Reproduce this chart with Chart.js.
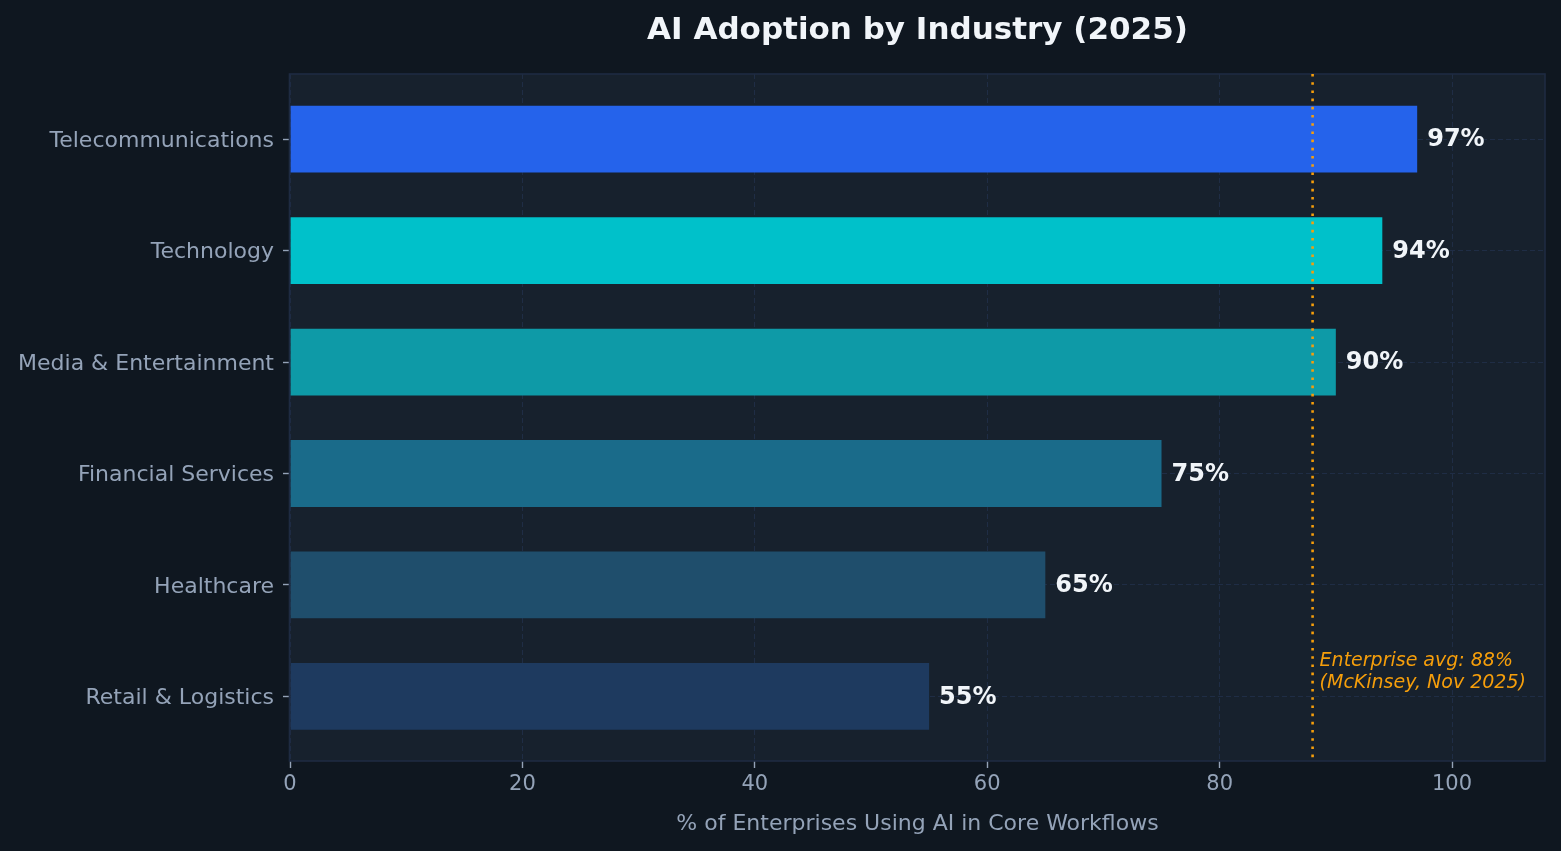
<!DOCTYPE html>
<html>
<head>
<meta charset="utf-8">
<script src="https://cdn.jsdelivr.net/npm/chart.js@4/dist/chart.umd.min.js"></script>
<style>
  html, body { margin: 0; padding: 0; background: #0f1720; }
  #wrap { width: 1561px; height: 851px; position: relative; }
</style>
</head>
<body>
<div id="wrap"><canvas id="c" width="1561" height="851"></canvas></div>
<script>
const categories = ["Telecommunications", "Technology", "Media & Entertainment", "Financial Services", "Healthcare", "Retail & Logistics"];
const adoptionPct = [97, 94, 90, 75, 65, 55];
const barColors = ["#2563eb", "#00c1ca", "#0e9aa7", "#1a6b8a", "#1f4e6c", "#1e3a5f"];
const xTicks = [0, 20, 40, 60, 80, 100];
const enterpriseAvg = 88;
const avgLabelLines = ["Enterprise avg: 88%", "(McKinsey, Nov 2025)"];
const titleText = "AI Adoption by Industry (2025)";
const xTitleText = "% of Enterprises Using AI in Core Workflows";

const BG = "#0f1720";
const PLOT_BG = "#17212d";
const FRAME = "#1e2b42";
const GRID = "#1f2d45";
const TICK_TXT = "#94a3b8";
const FONT = "'DejaVu Sans', sans-serif";

const bgPlugin = {
  id: "bgPlugin",
  beforeDraw(chart) {
    const { ctx, chartArea: a } = chart;
    ctx.save();
    ctx.fillStyle = BG;
    ctx.fillRect(0, 0, chart.width, chart.height);
    ctx.fillStyle = PLOT_BG;
    ctx.fillRect(a.left, a.top, a.right - a.left, a.bottom - a.top);
    // title centred over the plot area
    ctx.fillStyle = "#f1f5f9";
    ctx.font = "bold 31px " + FONT;
    ctx.textAlign = "center";
    ctx.textBaseline = "alphabetic";
    ctx.fillText(titleText, (a.left + a.right) / 2, 39);
    ctx.restore();
  },
  afterDatasetsDraw(chart) {
    const { ctx, chartArea: a, scales } = chart;
    const x = scales.x, y = scales.y;
    ctx.save();
    // frame
    ctx.strokeStyle = FRAME;
    ctx.lineWidth = 1.6;
    ctx.strokeRect(a.left - 0.5, a.top, a.right - a.left + 0.5, a.bottom - a.top);
    // value labels
    ctx.fillStyle = "#f1f5f9";
    ctx.font = "bold 24px " + FONT;
    ctx.textAlign = "left";
    ctx.textBaseline = "middle";
    adoptionPct.forEach((v, i) => {
      ctx.fillText(v + "%", x.getPixelForValue(v) + 10, y.getPixelForValue(i) + 1);
    });
    // average line
    const ax = x.getPixelForValue(enterpriseAvg);
    ctx.strokeStyle = "#f59e0b";
    ctx.lineWidth = 2.6;
    ctx.setLineDash([2.6, 5.6]);
    ctx.beginPath();
    ctx.moveTo(ax, a.top);
    ctx.lineTo(ax, a.bottom);
    ctx.stroke();
    ctx.setLineDash([]);
    ctx.fillStyle = "#f59e0b";
    ctx.font = "italic 19px " + FONT;
    ctx.textBaseline = "middle";
    const ty = y.getPixelForValue(4.68);
    avgLabelLines.forEach((t, k) => ctx.fillText(t, ax + 7, ty + k * 22));
    ctx.restore();
  }
};

const data = {
  datasets: [{
    data: adoptionPct.map((v, i) => ({ x: v, y: i })),
    backgroundColor: barColors,
    borderWidth: 0,
    barPercentage: 0.6,
    categoryPercentage: 1.0
  }]
};

new Chart(document.getElementById("c"), {
  type: "bar",
  data,
  plugins: [bgPlugin],
  options: {
    indexAxis: "y",
    responsive: false,
    animation: false,
    devicePixelRatio: 1,
    layout: { padding: { left: 0, right: 16, top: 74, bottom: 0 } },
    plugins: {
      legend: { display: false },
      tooltip: { enabled: false },
      title: { display: false }
    },
    scales: {
      x: {
        type: "linear",
        min: 0,
        max: 108,
        afterBuildTicks(scale) { scale.ticks = xTicks.map(v => ({ value: v })); },
        ticks: {
          includeBounds: false,
          color: TICK_TXT,
          font: { family: FONT, size: 21 },
          padding: 4,
          callback: v => String(v)
        },
        grid: {
          color: GRID,
          lineWidth: 1,
          tickColor: TICK_TXT,
          tickLength: 7,
          tickWidth: 1.4
        },
        border: { display: false, dash: [5, 3] },
        title: {
          display: true,
          text: xTitleText,
          color: TICK_TXT,
          font: { family: FONT, size: 22 },
          padding: { top: 0, bottom: 14 }
        },
        afterFit(scale) { scale.height = 90; }
      },
      y: {
        type: "linear",
        min: -0.585,
        max: 5.58,
        reverse: true,
        offset: false,
        afterBuildTicks(scale) { scale.ticks = categories.map((c, i) => ({ value: i })); },
        ticks: {
          includeBounds: false,
          color: TICK_TXT,
          font: { family: FONT, size: 22 },
          padding: 9,
          labelOffset: 2,
          callback: v => categories[v]
        },
        grid: {
          offset: false,
          color: GRID,
          lineWidth: 1,
          tickColor: TICK_TXT,
          tickLength: 7,
          tickWidth: 1.4
        },
        border: { display: false, dash: [5, 3] },
        afterFit(scale) { scale.width = 290; }
      }
    }
  }
});
</script>
</body>
</html>
